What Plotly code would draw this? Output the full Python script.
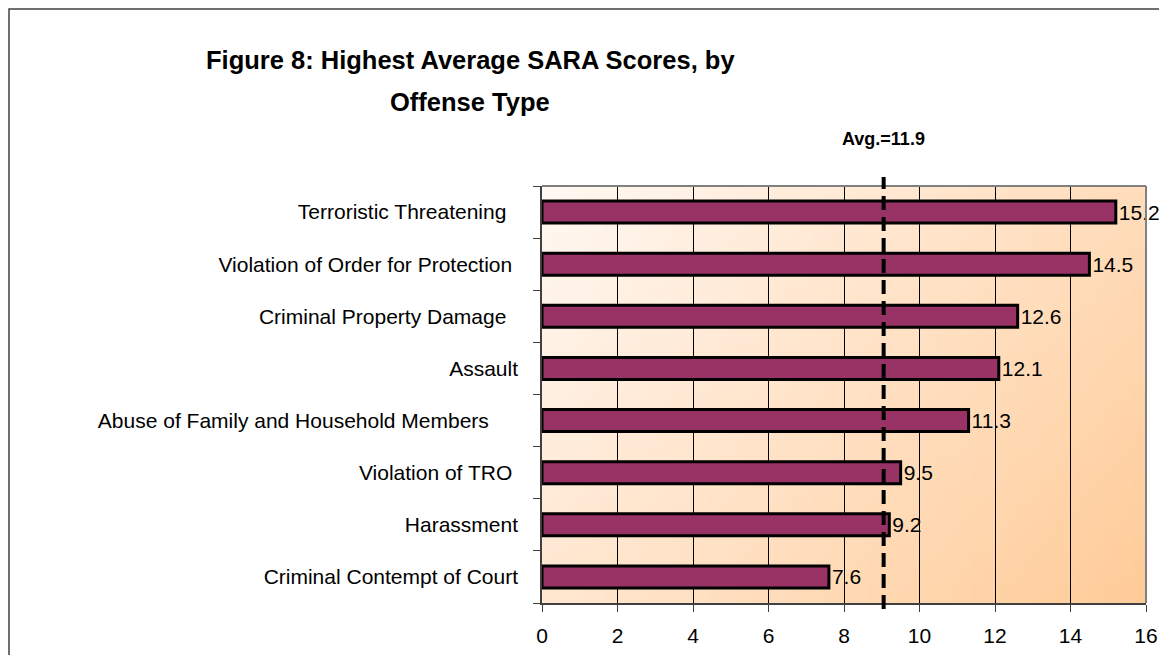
import base64
import struct
import zlib

import plotly.graph_objects as go

# --- data ------------------------------------------------------------------
offenses = [
    "Terroristic Threatening\u00a0\u00a0",
    "Violation of Order for Protection\u00a0",
    "Criminal Property Damage\u00a0\u00a0",
    "Assault",
    "Abuse of Family and Household Members\u00a0\u00a0\u00a0\u00a0\u00a0",
    "Violation of TRO\u00a0",
    "Harassment",
    "Criminal Contempt of Court",
]
avg_scores = [15.2, 14.5, 12.6, 12.1, 11.3, 9.5, 9.2, 7.6]
score_labels = ["15.2", "14.5", "12.6", "12.1", "11.3", "9.5", "9.2", "7.6"]
avg_line_x = 9.05
avg_label = "Avg.=11.9"
x_ticks = [0, 2, 4, 6, 8, 10, 12, 14, 16]

FONT = "Liberation Sans, Arial, sans-serif"
BAR_COLOR = "#993366"

# page body has an 8px margin, so the figure is sized to fit inside the window
W, H = 1159, 647
ML, MR, MT, MB = 534, 21, 178, 52
PW, PH = W - ML - MR, H - MT - MB


def px_x(xpix):
    """window x pixel -> paper x"""
    return (xpix - 8 - ML) / PW


def px_y(ypix):
    """window y pixel -> paper y"""
    return 1 - (ypix - 8 - MT) / PH


def gradient_png(w, h, c0, c1):
    """Small diagonal gradient image (top-left c0 -> bottom-right c1) as a data uri."""
    rows = []
    for j in range(h):
        v = j / (h - 1)
        row = bytearray([0])
        for i in range(w):
            u = i / (w - 1)
            t = min(1.0, 0.62 * u + 0.38 * v)
            row += bytes(int(round(a + (b - a) * t)) for a, b in zip(c0, c1))
        rows.append(bytes(row))
    raw = b"".join(rows)

    def chunk(tag, data):
        return (struct.pack(">I", len(data)) + tag + data
                + struct.pack(">I", zlib.crc32(tag + data) & 0xFFFFFFFF))

    png = (b"\x89PNG\r\n\x1a\n"
           + chunk(b"IHDR", struct.pack(">IIBBBBB", w, h, 8, 2, 0, 0, 0))
           + chunk(b"IDAT", zlib.compress(raw))
           + chunk(b"IEND", b""))
    return "data:image/png;base64," + base64.b64encode(png).decode()


fig = go.Figure(go.Bar(
    x=avg_scores,
    y=offenses,
    orientation="h",
    marker=dict(color=BAR_COLOR, line=dict(color="black", width=3)),
    text=score_labels,
    textposition="outside",
    constraintext="none",
    cliponaxis=False,
    textfont=dict(family=FONT, size=21, color="black"),
    hoverinfo="skip",
))

fig.update_layout(
    width=W,
    height=H,
    margin=dict(l=ML, r=MR, t=MT, b=MB, autoexpand=False),
    paper_bgcolor="white",
    plot_bgcolor="rgba(0,0,0,0)",
    bargap=0.58,
    showlegend=False,
    font=dict(family=FONT, color="black"),
    xaxis=dict(
        range=[0, 16],
        tickvals=x_ticks,
        showgrid=True,
        gridcolor="black",
        gridwidth=1,
        zeroline=False,
        showline=True,
        linecolor="#404040",
        linewidth=1.5,
        ticks="outside",
        ticklen=7,
        tickcolor="#404040",
        tickfont=dict(size=21),
        ticklabelstandoff=6,
        automargin=False,
    ),
    yaxis=dict(
        categoryorder="array",
        categoryarray=offenses[::-1],
        showgrid=False,
        zeroline=False,
        showline=True,
        linecolor="#404040",
        linewidth=1.5,
        ticks="outside",
        tickson="boundaries",
        ticklen=7,
        tickcolor="#404040",
        tickfont=dict(size=21),
        ticklabelstandoff=18,
        automargin=False,
    ),
    images=[dict(
        source=gradient_png(64, 32, (255, 248, 242), (255, 204, 153)),
        xref="paper", yref="paper", x=0, y=1, sizex=1, sizey=1,
        sizing="stretch", xanchor="left", yanchor="top", layer="below",
    )],
)

# frame: gray top/right edges of the plot, outer chart border
fig.add_shape(type="line", xref="paper", yref="paper", x0=0, x1=1, y0=1, y1=1,
              line=dict(color="#808080", width=2))
fig.add_shape(type="line", xref="paper", yref="paper", x0=1, x1=1, y0=0, y1=1,
              line=dict(color="#808080", width=2))
fig.add_shape(type="rect", xref="paper", yref="paper",
              x0=px_x(9), x1=px_x(1190), y0=px_y(680), y1=px_y(9),
              line=dict(color="#404040", width=1.5), layer="above")

# average marker line
fig.add_shape(type="line", xref="x", yref="paper", x0=avg_line_x, x1=avg_line_x,
              y0=px_y(609), y1=px_y(177), line=dict(color="black", width=4, dash="14px,7px"),
              layer="above")
fig.add_annotation(x=avg_line_x, xref="x", y=px_y(139), yref="paper", text=f"<b>{avg_label}</b>",
                   showarrow=False, font=dict(size=18, family=FONT), xanchor="center",
                   yanchor="middle")

# two-line title
title_lines = ["Figure 8: Highest Average SARA Scores, by", "Offense Type"]
for line, ypix in zip(title_lines, [60, 102]):
    fig.add_annotation(x=px_x(470), xref="paper", y=px_y(ypix), yref="paper",
                       text=f"<b>{line}</b>", showarrow=False,
                       font=dict(size=25.5, family=FONT), xanchor="center", yanchor="middle")

fig.write_html("out.html")
